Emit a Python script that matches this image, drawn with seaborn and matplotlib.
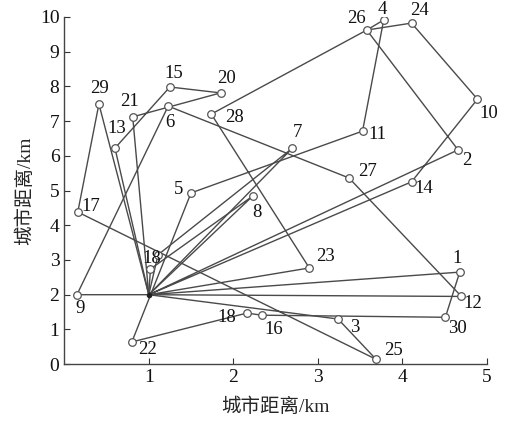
import matplotlib
matplotlib.use("Agg")
import matplotlib.pyplot as plt
import seaborn as sns

# customer coordinates (km), index 0 = depot
labels = ["", "1", "2", "3", "4", "5", "6", "7", "8", "9", "10",
          "11", "12", "13", "14", "15", "16", "17", "18", "18", "20",
          "21", "22", "23", "24", "25", "26", "27", "28", "29", "30", ""]
xs = [1.00, 4.68, 4.66, 3.24, 3.78, 1.50, 1.23, 2.70, 2.23, 0.15, 4.89,
      3.53, 4.70, 0.60, 4.11, 1.25, 2.34, 0.16, 2.16, 1.11, 1.85,
      0.81, 0.80, 2.90, 4.11, 3.69, 3.58, 3.37, 1.74, 0.41, 4.51, 1.02]
ys = [2.00, 2.65, 6.17, 1.30, 9.91, 4.93, 7.43, 6.22, 4.84, 2.00, 7.63,
      6.71, 1.95, 6.22, 5.25, 7.98, 1.41, 4.38, 1.47, 3.15, 7.81,
      7.12, 0.64, 2.77, 9.82, 0.14, 9.62, 5.36, 7.20, 7.49, 1.35, 2.74]

# vehicle routes as point indices
routes = [
    [0, 9, 6, 27, 12, 0],
    [0, 21, 20, 15, 13, 0],
    [0, 29, 17, 25, 3, 0],
    [0, 1, 30, 16, 18, 22, 5, 11, 4, 26, 28, 23, 0],
    [0, 14, 10, 24, 26, 2, 0],
    [0, 19, 7, 0],
    [0, 31, 8, 0],
]

# label offsets in pixels (dx, dy), y up
offsets = {1: (-3, 14), 2: (9, -11), 3: (17, -8), 4: (-1, 10), 5: (-12, 3),
           6: (2, -16), 7: (5, 16), 8: (4, -16), 9: (3, -14), 10: (11, -14),
           11: (15, -3), 12: (11, -7), 13: (2, 20), 14: (12, -7), 15: (4, 13),
           16: (12, -14), 17: (13, 6), 18: (-20, -4), 19: (-6, -4), 20: (6, 14),
           21: (-3, 15), 22: (16, -8), 23: (16, 11), 24: (8, 13), 25: (17, 9),
           26: (-10, 12), 27: (18, 6), 28: (23, -3), 29: (1, 16), 30: (12, -11)}

sns.set_style("ticks")
plt.rcParams['font.family'] = ['Liberation Serif', 'Noto Sans CJK SC']
plt.rcParams['axes.unicode_minus'] = False

fig = plt.figure(figsize=(5.06, 4.21), dpi=100)
ax = fig.add_axes([0.127, 0.135, 0.835, 0.825])

line_col = "#4a4a4a"
for r in routes:
    sns.lineplot(x=[xs[i] for i in r], y=[ys[i] for i in r], sort=False,
                 estimator=None, color=line_col, linewidth=1.0, ax=ax)

sns.scatterplot(x=xs[1:], y=ys[1:], s=30, marker="o", facecolor="white",
                edgecolor="#555555", linewidth=0.9, zorder=3, ax=ax)
ax.plot(xs[0], ys[0], "o", color="#222222", markersize=3, zorder=4)

for i in range(1, len(labels)):
    if labels[i] == "":
        continue
    dx, dy = offsets[i]
    ax.annotate(labels[i], (xs[i], ys[i]), xytext=(dx, dy),
                textcoords="offset pixels", ha="center", va="center",
                fontsize=13.5, color="#111111")

ax.set_xlim(0, 5)
ax.set_ylim(0, 10)
ax.set_xticks([1, 2, 3, 4, 5])
ax.set_yticks(range(0, 11))
ax.tick_params(direction="in", length=4, labelsize=14, colors="#333333",
               labelcolor="#111111")
for s in ["top", "right"]:
    ax.spines[s].set_visible(False)
for s in ["left", "bottom"]:
    ax.spines[s].set_color("#444444")
    ax.spines[s].set_linewidth(1.0)

ax.set_xlabel("城市距离/km", fontsize=14, labelpad=8)
ax.set_ylabel("城市距离/km", fontsize=14, labelpad=4)

fig.savefig("out.png", dpi=100)
